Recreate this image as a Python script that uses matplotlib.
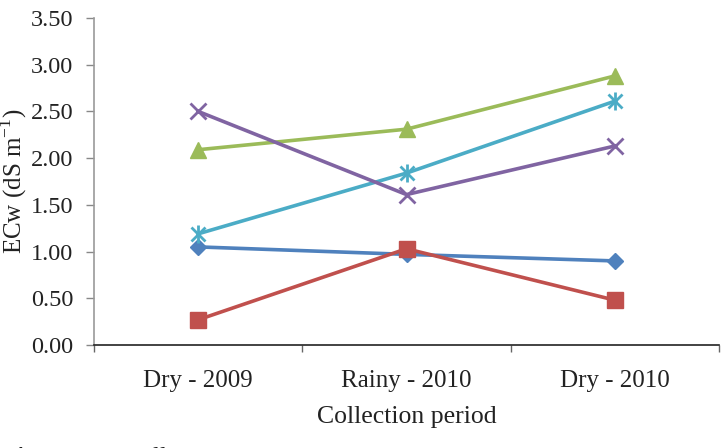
import matplotlib.pyplot as plt
import numpy as np

plt.rcParams['font.family'] = ['Liberation Serif', 'DejaVu Serif']
plt.rcParams['mathtext.fontset'] = 'custom'
plt.rcParams['mathtext.rm'] = 'Liberation Serif'

periods = ["Dry - 2009", "Rainy - 2010", "Dry - 2010"]
well_1 = [1.05, 0.97, 0.90]
well_2 = [0.27, 1.03, 0.48]
well_3 = [2.09, 2.31, 2.88]
well_4 = [1.19, 1.84, 2.61]
well_5 = [2.50, 1.61, 2.13]
y_ticks = [0.0, 0.5, 1.0, 1.5, 2.0, 2.5, 3.0, 3.5]

fig = plt.figure(figsize=(7.28, 4.48), dpi=100)
ax = fig.add_axes([94 / 728, 103 / 448, 625 / 728, 327 / 448])

x = np.arange(len(periods))
lw = 2.6
ax.plot(x, well_1, color="#4F81BD", lw=lw, marker="D", ms=8, zorder=3)
ax.plot(x, well_2, color="#C0504D", lw=lw, marker="s", ms=12, zorder=4)
ax.plot(x, well_3, color="#9BBB59", lw=lw, marker="^", ms=12, zorder=3)
# Excel-style star: an x with a vertical bar
ax.plot(x, well_4, color="#4BACC6", lw=lw, marker="x", ms=10, mew=2, zorder=3)
ax.plot(x, well_4, color="#4BACC6", lw=0, marker="|", ms=13, mew=2, zorder=3)
ax.plot(x, well_5, color="#8064A2", lw=lw, marker="x", ms=12, mew=2, zorder=3)

ax.set_xlim(-0.5, 2.5)
ax.set_ylim(0, 3.5)
ax.set_yticks(y_ticks)
ax.set_yticklabels([f"{v:.2f}" for v in y_ticks], fontsize=17.5, color="#222222")
ax.set_xticks(x)
ax.set_xticklabels(periods, fontsize=18, color="#222222")
ax.tick_params(axis="x", length=0, pad=18)
ax.set_xticks([-0.5, 0.5, 1.5, 2.5], minor=True)
ax.tick_params(axis="x", which="minor", length=5, color="#666666", width=1)
ax.tick_params(axis="y", length=6, color="#888888", width=1, pad=9)

for s in ["top", "right"]:
    ax.spines[s].set_visible(False)
ax.spines["left"].set_color("#999999")
ax.spines["left"].set_linewidth(1.2)
ax.spines["bottom"].set_color("#222222")
ax.spines["bottom"].set_linewidth(1.2)

ax.set_xlabel("Collection period", fontsize=18.5, color="#222222", labelpad=10)
ax.set_ylabel(r"ECw (dS m$^{\mathregular{-1}}$)", fontsize=18, color="#222222")
ax.yaxis.set_label_coords(-65 / 625, 0.5)

fig.text(12 / 728, -16 / 448, "Amazones wells:", fontsize=18, color="#222222",
         ha="left", va="baseline")

fig.savefig("out.png", dpi=100)
